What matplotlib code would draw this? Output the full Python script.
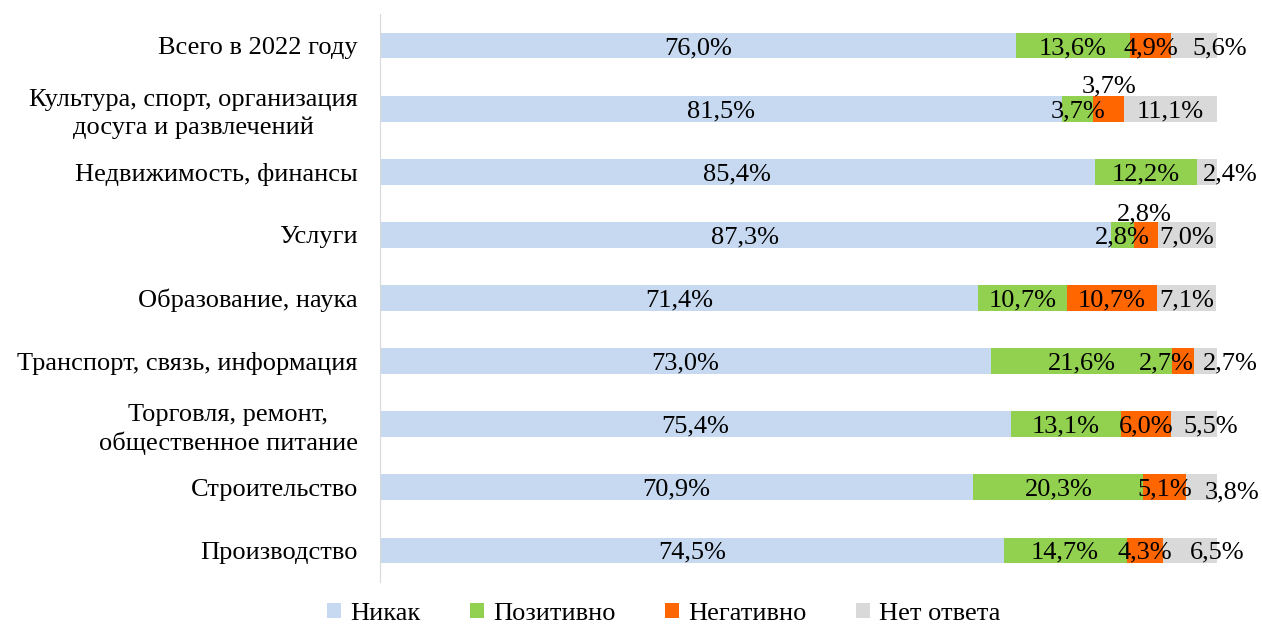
import matplotlib
matplotlib.use("Agg")
import matplotlib.pyplot as plt
import numpy as np

plt.rcParams["font.family"] = ["Liberation Serif", "DejaVu Serif"]

# Categories, top to bottom
categories = [
    "Всего в 2022 году",
    "Культура, спорт, организация\nдосуга и развлечений",
    "Недвижимость, финансы",
    "Услуги",
    "Образование, наука",
    "Транспорт, связь, информация",
    "Торговля, ремонт,\nобщественное питание",
    "Строительство",
    "Производство",
]

series_names = ["Никак", "Позитивно", "Негативно", "Нет ответа"]
none_vals = [76.0, 81.5, 85.4, 87.3, 71.4, 73.0, 75.4, 70.9, 74.5]
positive_vals = [13.6, 3.7, 12.2, 2.8, 10.7, 21.6, 13.1, 20.3, 14.7]
negative_vals = [4.9, 3.7, 0.0, 2.8, 10.7, 2.7, 6.0, 5.1, 4.3]
no_answer_vals = [5.6, 11.1, 2.4, 7.0, 7.1, 2.7, 5.5, 3.8, 6.5]

colors = ["#C6D9F0", "#92D050", "#FF6600", "#D9D9D9"]

# manual label nudges (pixels) for crowded segments: (row, series) -> (dx, dy)
label_nudge = {
    (0, 3): (25, 0),
    (1, 2): (0, 25),
    (2, 3): (23, 0),
    (3, 2): (-2, 23),
    (5, 2): (-17, 0),
    (5, 3): (25, 0),
    (6, 3): (17, 0),
    (7, 3): (30, -3),
    (8, 3): (27, 0),
}

fig = plt.figure(figsize=(12.62, 6.25), dpi=100)
ax = fig.add_axes([380 / 1262, 43 / 625, 837 / 1262, 568 / 625])

y = np.arange(len(categories))
data = [none_vals, positive_vals, negative_vals, no_answer_vals]
left = np.zeros(len(categories))
for s, (vals, name, col) in enumerate(zip(data, series_names, colors)):
    vals = np.array(vals)
    ax.barh(y, vals, left=left, height=0.41, color=col, label=name, linewidth=0)
    for i, v in enumerate(vals):
        if v <= 0:
            continue
        dx, dy = label_nudge.get((i, s), (0, 0))
        ax.annotate(f"{v:.1f}%".replace(".", ","), (left[i] + v / 2, y[i]),
                    xytext=(dx, dy), textcoords="offset pixels",
                    ha="center", va="center_baseline", fontsize=19, color="black")
    left += vals

ax.set_xlim(0, 100)
ax.set_ylim(len(categories) - 0.5, -0.5)
ax.set_yticks(y)
ax.set_yticklabels(categories, fontsize=19, multialignment="center", linespacing=1.3)
ax.set_xticks([])
ax.tick_params(axis="y", length=0, pad=16)
for side in ["top", "right", "bottom"]:
    ax.spines[side].set_visible(False)
ax.spines["left"].set_color("#D9D9D9")

fig.legend(loc="center", bbox_to_anchor=(0.526, 0.018), ncol=4, frameon=False,
           fontsize=19, handlelength=0.5, handleheight=0.5, handletextpad=0.35,
           columnspacing=1.9)

fig.savefig("out.png", dpi=100)
